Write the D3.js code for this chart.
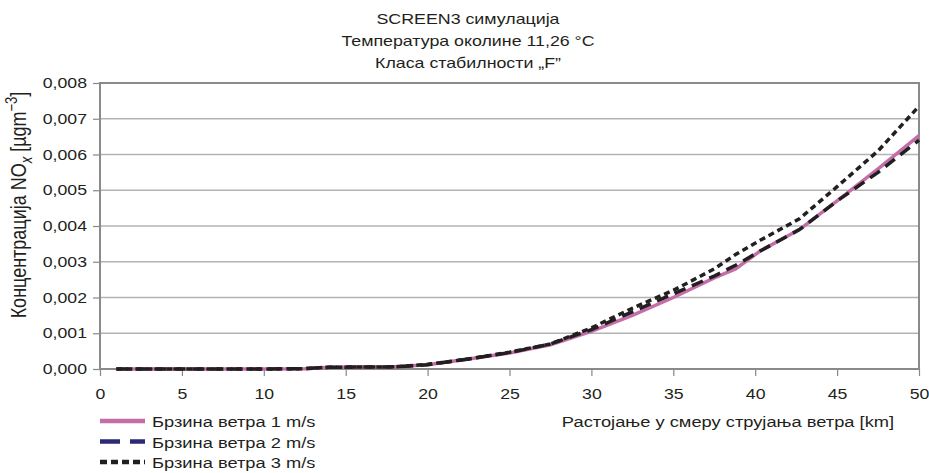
<!DOCTYPE html>
<html>
<head>
<meta charset="utf-8">
<script src="https://cdn.jsdelivr.net/npm/d3@7"></script>
<style>
  body { margin: 0; background: #fff; }
  svg text { font-family: "Liberation Sans", Arial, sans-serif; fill: #231f20; }
</style>
</head>
<body>
<div class="canvas"></div>
<script>
// distances along wind direction [km]
const distances = [1, 5, 10, 12.5, 14, 18, 20, 22.5, 25, 27.5, 30, 32.5, 35, 37.5, 38.8, 40.3, 42.7, 45, 47.5, 50];

// NOx concentration for each wind speed
const wind1 = [0, 0, 0, 0.00001, 0.00005, 0.00006, 0.00012, 0.00028, 0.00045, 0.00068, 0.00105, 0.0015, 0.002, 0.00255, 0.0028, 0.0033, 0.0039, 0.0047, 0.0056, 0.00653];
const wind2 = [0, 0, 0, 0.00001, 0.00005, 0.00006, 0.00012, 0.00028, 0.00046, 0.0007, 0.0011, 0.0016, 0.0021, 0.0026, 0.0029, 0.0033, 0.0039, 0.0047, 0.0055, 0.0064];
const wind3 = [0, 0, 0, 0.00001, 0.00005, 0.00006, 0.00013, 0.00028, 0.00047, 0.0007, 0.00115, 0.0017, 0.0022, 0.0028, 0.0032, 0.0036, 0.0042, 0.0051, 0.0061, 0.00735];

const seriesNames = ["Брзина ветра 1 m/s", "Брзина ветра 2 m/s", "Брзина ветра 3 m/s"];
const titleLines = ["SCREEN3 симулација", "Температура околине 11,26 °C", "Класа стабилности „F”"];
const xTicks = [0, 5, 10, 15, 20, 25, 30, 35, 40, 45, 50];
const yTicks = [0, 0.001, 0.002, 0.003, 0.004, 0.005, 0.006, 0.007, 0.008];

const W = 929, H = 473;
const margin = { top: 83, right: 10, bottom: 104, left: 100 };
const width = W - margin.left - margin.right;
const height = H - margin.top - margin.bottom;
// the original text is a bit wider than it is tall
const sx = 1.22;

const svg = d3.select(".canvas").append("svg").attr("width", W).attr("height", H);

const x = d3.scaleLinear().domain([0, 50]).range([0, width]);
const y = d3.scaleLinear().domain([0, 0.008]).range([height, 0]);

const chart = svg.append("g").attr("transform", `translate(${margin.left}, ${margin.top})`);

// gridlines
chart.selectAll(".grid")
  .data(yTicks.slice(1, -1))
  .enter()
  .append("line")
  .attr("x1", 0).attr("x2", width)
  .attr("y1", (d) => y(d)).attr("y2", (d) => y(d))
  .attr("stroke", "#b3b3b3").attr("stroke-width", 1.3);

const fmt = (d) => d3.format(".3f")(d).replace(".", ",");

const yAxis = chart.append("g").call(d3.axisLeft(y).tickValues(yTicks).tickFormat(fmt).tickSize(7).tickPadding(6));
const xAxis = chart.append("g").attr("transform", `translate(0, ${height})`)
  .call(d3.axisBottom(x).tickValues(xTicks).tickSize(7).tickPadding(13));
[yAxis, xAxis].forEach((a) => {
  a.select(".domain").remove();
  a.selectAll("line").attr("stroke", "#888").attr("stroke-width", 1.2);
  a.selectAll("text").style("font-size", "14.5px").attr("fill", "#231f20")
    .attr("transform", `scale(${sx},1)`);
});
yAxis.selectAll("text").attr("x", -13 / sx);

// frame
chart.append("rect")
  .attr("width", width).attr("height", height)
  .attr("fill", "none").attr("stroke", "#8a8a8a").attr("stroke-width", 2);

const styles = [
  { color: "#c46ea9", legendColor: "#c46ea9", dash: null, w: 3.5, legendDash: null },
  { color: "#231f20", legendColor: "#2b2a72", dash: "12,7", w: 3.5, legendDash: "20,10" },
  { color: "#231f20", legendColor: "#231f20", dash: "6,4", w: 3.5, legendDash: "7,4" }
];
const series = [wind1, wind2, wind3];

const line = d3.line().x((d) => x(d[0])).y((d) => y(d[1]));

series.forEach((vals, i) => {
  chart.append("path")
    .datum(distances.map((d, j) => [d, vals[j]]))
    .attr("d", line)
    .attr("fill", "none")
    .attr("stroke", styles[i].color)
    .attr("stroke-width", styles[i].w)
    .attr("stroke-dasharray", styles[i].dash);
});

// title
svg.append("text")
  .attr("transform", `translate(468, 24) scale(${sx},1)`)
  .attr("text-anchor", "middle")
  .style("font-size", "14.6px")
  .selectAll("tspan")
  .data(titleLines)
  .enter()
  .append("tspan")
  .attr("x", 0)
  .attr("dy", (d, i) => (i === 0 ? 0 : 22))
  .text((d) => d);

// y label
const ylab = svg.append("text")
  .attr("transform", `translate(26, 205) rotate(-90) scale(1,${sx})`)
  .attr("text-anchor", "middle")
  .style("font-size", "18px");
ylab.append("tspan").text("Концентрација NO");
ylab.append("tspan").text("x").attr("dy", 5).style("font-size", "13px").style("font-style", "italic");
ylab.append("tspan").text(" [µgm").attr("dy", -5);
ylab.append("tspan").text("−3").attr("dy", -7).style("font-size", "13px");
ylab.append("tspan").text("]").attr("dy", 7);

// x label
svg.append("text")
  .attr("transform", `translate(728, 427) scale(${sx},1)`)
  .attr("text-anchor", "middle")
  .style("font-size", "15px")
  .text("Растојање у смеру струјања ветра [km]");

// legend
const legend = svg.append("g").attr("transform", "translate(100, 421)");
seriesNames.forEach((name, i) => {
  const g = legend.append("g").attr("transform", `translate(0, ${i * 20.5})`);
  g.append("line")
    .attr("x1", 0).attr("x2", 45)
    .attr("stroke", styles[i].legendColor)
    .attr("stroke-width", 4.5)
    .attr("stroke-dasharray", styles[i].legendDash);
  g.append("text")
    .attr("transform", `translate(52, 6) scale(${sx},1)`)
    .style("font-size", "15px")
    .text(name);
});
</script>
</body>
</html>
